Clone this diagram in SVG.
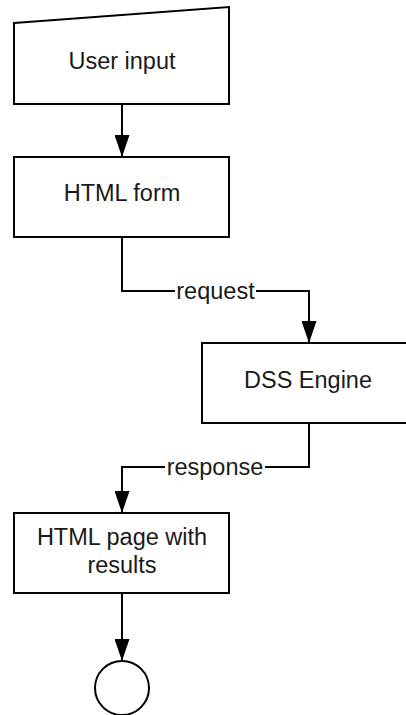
<svg xmlns="http://www.w3.org/2000/svg" width="406" height="715" viewBox="0 0 406 715">
<style>
.shape{fill:#fff;stroke:#000;stroke-width:2}
.txt{font-family:"Liberation Sans",Arial,sans-serif;font-size:23.5px;fill:#1a1a1a;text-anchor:middle}
.conn{fill:none;stroke:#000;stroke-width:2}
.lbl{fill:#fff}
</style>
<defs>
<marker id="arr" markerWidth="22" markerHeight="15" refX="21" refY="7.5" orient="auto" markerUnits="userSpaceOnUse" viewBox="0 0 22 15">
<path d="M0,0 L22,7.5 L0,15 Z" fill="#000"/>
</marker>
</defs>
<rect width="406" height="715" fill="#fff"/>
<g id="connectors">
<path class="conn" d="M122,104 L122,156" marker-end="url(#arr)"/>
<path class="conn" d="M122,237 L122,291 L309,291 L309,342" marker-end="url(#arr)"/>
<path class="conn" d="M309,423 L309,467 L122,467 L122,512" marker-end="url(#arr)"/>
<path class="conn" d="M122,593 L122,660" marker-end="url(#arr)"/>
<rect class="lbl" x="175" y="280" width="81" height="22"/>
<text class="txt" x="215.5" y="299">request</text>
<rect class="lbl" x="165" y="456" width="100" height="22"/>
<text class="txt" x="215" y="475">response</text>
</g>
<g id="user-input">
<path class="shape" d="M14,23 L229,7 L229,104 L14,104 Z"/>
<text class="txt" x="122" y="69">User input</text>
</g>
<g id="html-form">
<rect class="shape" x="14" y="157" width="215" height="80"/>
<text class="txt" x="122" y="201">HTML form</text>
</g>
<g id="dss-engine">
<rect class="shape" x="202" y="343" width="212" height="80"/>
<text class="txt" x="308" y="388">DSS Engine</text>
</g>
<g id="html-page">
<rect class="shape" x="14" y="513" width="215" height="80"/>
<text class="txt" x="122" y="545">HTML page with</text>
<text class="txt" x="122" y="573">results</text>
</g>
<g id="end">
<circle class="shape" cx="122" cy="688" r="27"/>
</g>
</svg>
